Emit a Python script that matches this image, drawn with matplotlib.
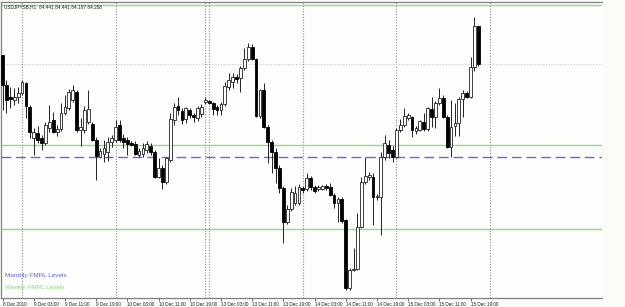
import numpy as np
import matplotlib
matplotlib.use('Agg')
import matplotlib.pyplot as plt

# USDJPY H1 candles, 8 Dec 2010 19:00 .. 15 Dec 22:00
opens = [84.263, 84.077, 84.003, 83.984, 84.003, 84.028, 84.090, 83.941, 83.748, 83.779,
         83.748, 83.717, 83.810, 83.860, 83.785, 83.804, 83.903, 83.934, 83.984, 84.034,
         83.798, 83.798, 83.847, 83.835, 83.736, 83.630, 83.649, 83.661, 83.723, 83.736,
         83.829, 83.748, 83.736, 83.717, 83.711, 83.642, 83.649, 83.674, 83.698, 83.661,
         83.506, 83.562, 83.475, 83.611, 83.860, 83.947, 83.916, 83.866, 83.922, 83.891,
         83.872, 83.897, 83.972, 83.978, 83.965, 83.941, 83.922, 83.959, 84.065, 84.096,
         84.127, 84.121, 84.183, 84.239, 84.313, 84.239, 83.885, 84.046, 83.816, 83.723,
         83.661, 83.562, 83.438, 83.226, 83.307, 83.344, 83.344, 83.438, 83.431, 83.500,
         83.444, 83.431, 83.431, 83.450, 83.444, 83.394, 83.344, 83.369, 83.239, 82.817,
         82.928, 82.935, 83.195, 83.475, 83.506, 83.506, 83.382, 83.382, 83.630, 83.705,
         83.674, 83.630, 83.798, 83.829, 83.872, 83.878, 83.792, 83.798, 83.847, 83.804,
         83.928, 83.878, 83.965, 83.996, 83.878, 83.692, 83.823, 83.841, 83.990, 84.028,
         84.003, 84.189, 84.441]
highs = [84.263, 84.108, 84.065, 84.059, 84.065, 84.108, 84.096, 83.953, 83.810, 83.823,
         83.767, 83.847, 83.953, 83.910, 83.829, 83.965, 84.015, 84.052, 84.077, 84.046,
         83.872, 83.947, 84.046, 83.847, 83.754, 83.686, 83.736, 83.754, 83.767, 83.860,
         83.860, 83.773, 83.754, 83.729, 83.729, 83.686, 83.717, 83.729, 83.717, 83.674,
         83.624, 83.580, 83.630, 83.903, 83.965, 84.003, 83.934, 83.941, 83.934, 83.903,
         83.947, 83.959, 84.003, 83.984, 83.972, 83.953, 83.972, 84.096, 84.152, 84.152,
         84.146, 84.195, 84.307, 84.338, 84.332, 84.245, 84.052, 84.090, 83.829, 83.736,
         83.686, 83.580, 83.450, 83.332, 83.438, 83.450, 83.462, 83.450, 83.531, 83.512,
         83.456, 83.456, 83.456, 83.462, 83.469, 83.407, 83.382, 83.382, 83.245, 82.941,
         83.065, 83.282, 83.506, 83.630, 83.537, 83.531, 83.400, 83.661, 83.767, 83.736,
         83.698, 83.810, 83.866, 83.934, 83.903, 83.885, 83.823, 83.860, 83.903, 83.941,
         84.003, 83.978, 84.059, 84.015, 83.891, 83.984, 83.965, 84.003, 84.046, 84.040,
         84.251, 84.499, 84.441]
lows = [83.922, 83.903, 83.934, 83.953, 83.965, 84.015, 83.872, 83.748, 83.642, 83.717,
        83.674, 83.705, 83.785, 83.779, 83.760, 83.792, 83.891, 83.922, 83.972, 83.785,
        83.698, 83.779, 83.835, 83.729, 83.487, 83.624, 83.599, 83.605, 83.692, 83.723,
        83.723, 83.686, 83.642, 83.698, 83.642, 83.630, 83.630, 83.655, 83.642, 83.500,
        83.500, 83.431, 83.462, 83.599, 83.829, 83.891, 83.835, 83.841, 83.872, 83.847,
        83.854, 83.878, 83.959, 83.959, 83.891, 83.891, 83.891, 83.947, 84.046, 84.059,
        84.090, 84.034, 84.170, 84.226, 84.232, 83.878, 83.872, 83.810, 83.593, 83.531,
        83.469, 83.407, 83.096, 83.214, 83.295, 83.332, 83.332, 83.407, 83.419, 83.425,
        83.407, 83.419, 83.425, 83.425, 83.388, 83.313, 83.226, 83.220, 82.804, 82.804,
        82.922, 82.928, 83.189, 83.462, 83.487, 83.208, 83.363, 83.146, 83.611, 83.624,
        83.599, 83.624, 83.785, 83.816, 83.860, 83.754, 83.773, 83.792, 83.792, 83.792,
        83.816, 83.810, 83.953, 83.872, 83.686, 83.630, 83.760, 83.760, 83.878, 83.996,
        83.996, 84.164, 84.197]
closes = [84.077, 83.984, 83.990, 84.003, 84.028, 84.096, 83.947, 83.785, 83.785, 83.736,
          83.717, 83.829, 83.847, 83.785, 83.804, 83.903, 83.941, 84.034, 84.046, 83.798,
          83.816, 83.922, 83.928, 83.736, 83.636, 83.667, 83.686, 83.723, 83.748, 83.816,
          83.736, 83.723, 83.711, 83.705, 83.649, 83.667, 83.686, 83.711, 83.661, 83.506,
          83.562, 83.475, 83.624, 83.866, 83.941, 83.922, 83.860, 83.934, 83.891, 83.878,
          83.934, 83.941, 83.984, 83.965, 83.928, 83.922, 83.959, 84.071, 84.108, 84.127,
          84.114, 84.183, 84.239, 84.313, 84.239, 83.885, 84.046, 83.816, 83.723, 83.661,
          83.562, 83.438, 83.226, 83.307, 83.413, 83.407, 83.444, 83.425, 83.500, 83.444,
          83.419, 83.444, 83.450, 83.438, 83.394, 83.344, 83.369, 83.233, 82.817, 82.928,
          82.935, 83.195, 83.475, 83.512, 83.518, 83.382, 83.388, 83.630, 83.717, 83.655,
          83.630, 83.798, 83.829, 83.885, 83.891, 83.798, 83.810, 83.854, 83.804, 83.934,
          83.878, 83.965, 83.996, 83.878, 83.692, 83.816, 83.841, 83.990, 84.028, 84.003,
          84.189, 84.441, 84.208]

tick_labels = ['8 Dec 2010', '9 Dec 03:00', '9 Dec 11:00', '9 Dec 19:00',
               '10 Dec 03:00', '10 Dec 11:00', '10 Dec 19:00', '13 Dec 03:00',
               '13 Dec 11:00', '13 Dec 19:00', '14 Dec 03:00', '14 Dec 11:00',
               '14 Dec 19:00', '15 Dec 03:00', '15 Dec 11:00', '15 Dec 19:00']
day_separators = [5, 29, 52, 53, 77, 101, 125]
weekly_levels = [84.574, 83.705, 83.183]
monthly_levels = [83.630]
bid = 84.208
title = 'USDJPYSB,H1  84.441 84.441 84.197 84.208'

plt.rcParams['font.family'] = ['Liberation Sans', 'DejaVu Sans']

fig = plt.figure(figsize=(6.25, 3.07), dpi=100)
fig.patch.set_facecolor('#fbfcf8')
ax = fig.add_axes([1.5 / 625, 9.5 / 307, 600.5 / 625, 296 / 307])
ax.set_facecolor('#fdfefb')

x = np.arange(len(opens))
o = np.array(opens)
c = np.array(closes)

# period separators + bid line
for d in day_separators:
    ax.axvline(d, color='#8c8c8c', lw=0.8, ls=(0, (1, 1.5)), zorder=1)
ax.axhline(bid, color='#c8c8c8', lw=0.8, ls=(0, (1, 1.5)), zorder=1)

# FMRL levels
for lv in weekly_levels:
    ax.axhline(lv, color='#8fdc8f', lw=1.0, zorder=1)
for lv in monthly_levels:
    ax.axhline(lv, color='#6464f0', lw=1.0, ls=(0, (7, 3.5)), zorder=1)

# candles
ax.vlines(x, lows, highs, color='#222222', lw=0.7, zorder=2)
up = c >= o
bottom = np.minimum(o, c)
height = np.abs(c - o)
ax.bar(x[up], height[up], bottom=bottom[up], width=0.72, color='white',
       edgecolor='#222222', linewidth=0.6, zorder=3)
ax.bar(x[~up], height[~up], bottom=bottom[~up], width=0.72, color='black',
       edgecolor='black', linewidth=0.6, zorder=3)

ax.set_xlim(-0.26, 153.7)
ax.set_ylim(82.758, 84.596)

ax.set_yticks([])
ax.set_xticks(np.arange(0, 8 * len(tick_labels), 8))
ax.set_xticklabels(tick_labels, fontsize=3.3, ha='left', color='#222222')
ax.tick_params(axis='x', length=2, width=0.6, pad=1.2, color='#555555')

for side in ['left', 'top', 'bottom']:
    ax.spines[side].set_color('#808080')
    ax.spines[side].set_linewidth(0.9)
ax.spines['right'].set_visible(False)

ax.text(0.004, 0.983, title, transform=ax.transAxes, fontsize=3.4,
        color='#222222', va='center', ha='left')
ax.text(0.006, 0.074, 'Monthly FMRL Levels', transform=ax.transAxes,
        fontsize=4.6, color='#6060f0', va='center', ha='left')
ax.text(0.006, 0.033, 'Weekly FMRL Levels', transform=ax.transAxes,
        fontsize=4.6, color='#80dc80', va='center', ha='left')

fig.savefig('out.png', dpi=100, facecolor=fig.get_facecolor())
